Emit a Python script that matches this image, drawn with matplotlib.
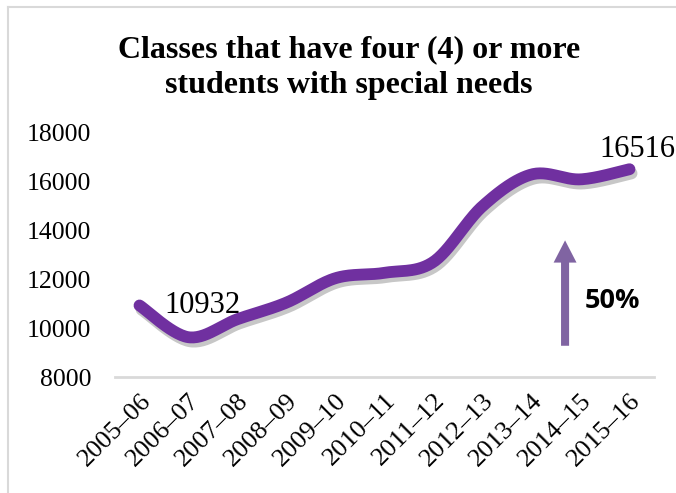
import numpy as np
import matplotlib
matplotlib.use("Agg")
from matplotlib import pyplot as plt
from matplotlib import patheffects as pe
from matplotlib.lines import Line2D

years = ["2005–06", "2006–07", "2007–08", "2008–09", "2009–10", "2010–11",
         "2011–12", "2012–13", "2013–14", "2014–15", "2015–16"]
classes = [10932, 9630, 10370, 11050, 12050, 12270, 12720, 15000, 16300, 16100, 16516]
title = "Classes that have four (4) or more\nstudents with special needs"
growth = "50%"

line_col = "#7030A0"
arrow_col = "#8064A2"
serif = ["Liberation Serif", "DejaVu Serif"]


def smooth(xs, ys, n=30):
	# bezier smoothing like the spreadsheet "smoothed line"
	xs = np.asarray(xs, float)
	ys = np.asarray(ys, float)
	px = np.concatenate([[xs[0]], xs, [xs[-1]]])
	py = np.concatenate([[ys[0]], ys, [ys[-1]]])
	outx, outy = [], []
	for i in range(len(xs) - 1):
		p0 = np.array([px[i + 1], py[i + 1]])
		p3 = np.array([px[i + 2], py[i + 2]])
		p1 = p0 + (np.array([px[i + 2], py[i + 2]]) - np.array([px[i], py[i]])) / 6
		p2 = p3 - (np.array([px[i + 3], py[i + 3]]) - np.array([px[i + 1], py[i + 1]])) / 6
		t = np.linspace(0, 1, n)[:, None]
		pts = (1 - t) ** 3 * p0 + 3 * (1 - t) ** 2 * t * p1 + 3 * (1 - t) * t ** 2 * p2 + t ** 3 * p3
		outx.extend(pts[:, 0])
		outy.extend(pts[:, 1])
	return np.array(outx), np.array(outy)


fig = plt.figure(figsize=(6.76, 4.93), dpi=100)
ax = fig.add_axes([115 / 676, 1 - 377 / 493, 539 / 676, 244 / 493])

x = np.arange(len(years))
sx, sy = smooth(x, classes)
ax.plot(sx, sy, color=line_col, lw=8.5, solid_capstyle="round", solid_joinstyle="round",
	path_effects=[pe.SimpleLineShadow(offset=(1.5, -3), shadow_color="black", alpha=0.22),
		pe.Normal()])

ax.set_xlim(-0.5, len(years) - 0.5)
ax.set_ylim(8000, 18000)
ax.set_yticks(range(8000, 18001, 2000))
ax.set_xticks(x)
ax.set_xticklabels(years, rotation=45, ha="right", rotation_mode="anchor", family=serif, fontsize=19)
for lab in ax.get_yticklabels():
	lab.set_family(serif)
	lab.set_fontsize(18.5)
ax.tick_params(axis="y", length=0, pad=17)
ax.tick_params(axis="x", length=0, pad=9)
for s in ["top", "right", "left"]:
	ax.spines[s].set_visible(False)
ax.spines["bottom"].set_color("#d9d9d9")
ax.spines["bottom"].set_linewidth(2)

# data labels
ax.annotate(str(classes[0]), (x[0], classes[0]), xytext=(18, 0), textcoords="offset points",
	ha="left", va="center", family=serif, fontsize=22)
ax.annotate(str(classes[-1]), (x[-1], classes[-1]), xytext=(6, 14), textcoords="offset points",
	ha="center", va="center", family=serif, fontsize=22)

# growth arrow
ax.annotate("", xy=(0.835, 0.56), xytext=(0.835, 0.128), xycoords="axes fraction",
	arrowprops=dict(arrowstyle="simple,head_length=1.6,head_width=1.65,tail_width=0.58",
		mutation_scale=10, color=arrow_col, lw=0, shrinkA=0, shrinkB=0))
ax.text(0.872, 0.31, growth, transform=ax.transAxes, ha="left", va="center",
	fontsize=19.5, fontweight="bold", family=["Open Sans", "DejaVu Sans"])

fig.text(349 / 676, 1 - 68 / 493, title, ha="center", va="center", fontsize=23,
	fontweight="bold", family=serif, linespacing=1.3)

# chart area border
fig.add_artist(Line2D([8 / 676, 8 / 676], [0, 1 - 7 / 493], color="#d9d9d9", lw=1.5))
fig.add_artist(Line2D([8 / 676, 1], [1 - 7 / 493, 1 - 7 / 493], color="#d9d9d9", lw=1.5))

fig.savefig("out.png", dpi=100)
